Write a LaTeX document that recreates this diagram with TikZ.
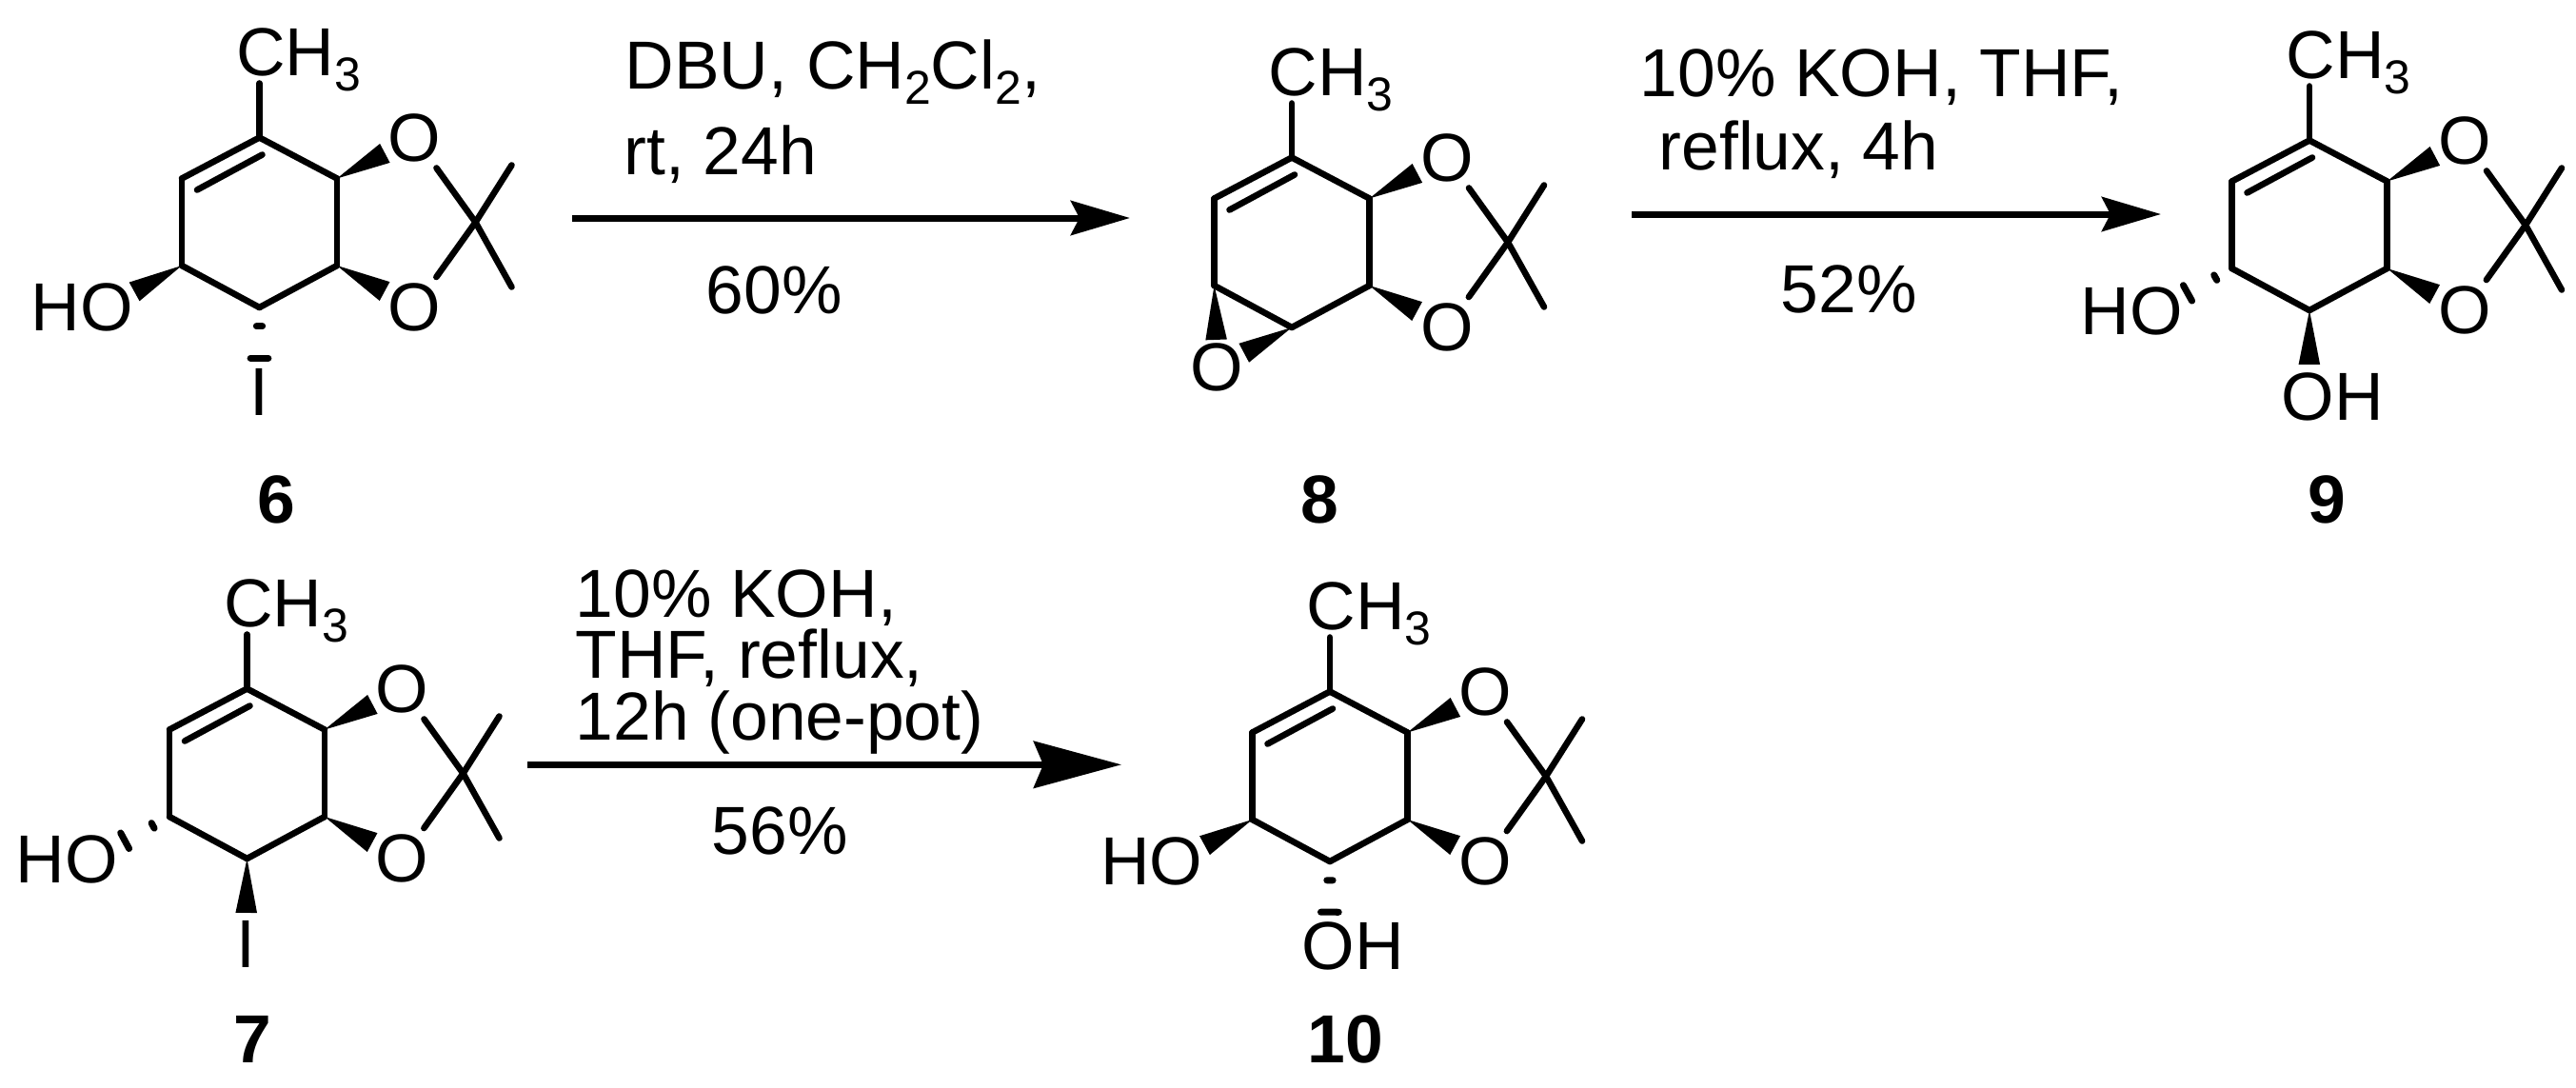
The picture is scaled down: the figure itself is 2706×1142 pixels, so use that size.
\documentclass[tikz,border=0pt]{standalone}
\usepackage{fontspec}
\usepackage{tikz}
\usetikzlibrary{arrows.meta, calc}
\setmainfont{Liberation Sans}

\newcommand{\chemsub}[1]{\raisebox{-0.23em}{\fontsize{14.2}{14.2}\selectfont #1}}
\newcommand{\wedgebond}[2]{\fill ($(#1)$) -- ($(#1)!0.58cm!11.2:(#2)$) -- ($(#1)!0.58cm!-11.2:(#2)$) -- cycle;}
\newcommand{\hashbond}[2]{\draw[hashline] ($(#1)!0.2cm!9:(#2)$) -- ($(#1)!0.2cm!-9:(#2)$) ($(#1)!0.54cm!10:(#2)$) -- ($(#1)!0.54cm!-10:(#2)$);}

\begin{document}
\begin{tikzpicture}[
    x=0.01cm,
    y=-0.01cm,
    bond/.style={line width=0.066cm, line cap=round},
    hashline/.style={line width=0.07cm, line cap=round},
    atom/.style={inner sep=0.06cm, font=\fontsize{20.3}{17.3}\selectfont},
    subst/.style={atom, anchor=base},
    reagent/.style={atom, anchor=base west, inner sep=0pt},
    cpd/.style={inner sep=0pt, font=\fontsize{20.3}{24}\selectfont\bfseries},
    rxn/.style={line width=0.07cm, -{Stealth[length=0.62cm, width=0.36cm, inset=0.09cm]}},
    rxnlong/.style={line width=0.07cm, -{Stealth[length=0.92cm, width=0.49cm, inset=0.1cm]}},
    acetonide/.pic={
        % cyclohexene ring, then the acetal on its right
        \coordinate (-top) at (0,-89);
        \coordinate (-ru) at (81.5,-46);
        \coordinate (-rl) at (81.5,45.5);
        \coordinate (-bot) at (0,89.5);
        \coordinate (-ll) at (-81.5,45.5);
        \coordinate (-lu) at (-81.5,-46);
        \coordinate (-c) at (227,0);
        \coordinate (-me1) at (265,-60);
        \coordinate (-me2) at (265,68);
        \coordinate (-mec) at (0,-146);
        \node[atom] (-o1) at (163,-89) {O};
        \node[atom] (-o2) at (163,89.5) {O};
        \node[subst] (-me) at (41,-154) {CH\chemsub{3}};
        \path[bond]
            (-top) edge (-ru)
            (-ru) edge (-rl)
            (-rl) edge (-bot)
            (-bot) edge (-ll)
            (-ll) edge (-lu)
            (-lu) edge (-top)
            ($(-top)+(3,18)$) edge ($(-lu)+(16,12)$)
            (-top) edge (-mec)
            (-o1) edge (-c)
            (-o2) edge (-c)
            (-c) edge (-me1)
            (-c) edge (-me2);
        \wedgebond{-ru}{-o1}
        \wedgebond{-rl}{-o2}
    }
]
    \useasboundingbox (0,0) rectangle (2706,1142);

    % compound 6
    \pic (m6) at (272.5,233.5) {acetonide};
    \node[subst] (m6-ho) at (86.5,347) {HO};
    \node[subst] (m6-i) at (272.5,436.4) {I};
    \coordinate (m6-hoo) at (111,323);
    \wedgebond{m6-ll}{m6-hoo}
    \hashbond{m6-bot}{m6-i}
    \node[cpd] (n6) at (290,525) {6};

    % compound 8
    \pic (m8) at (1357,254.5) {acetonide};
    \node[atom] (m8-o) at (1278.7,385.7) {O};
    \wedgebond{m8-ll}{m8-o}
    \wedgebond{m8-bot}{m8-o}
    \node[cpd] (n8) at (1386,525) {8};

    % compound 9
    \pic (m9) at (2426,236.5) {acetonide};
    \node[subst] (m9-ho) at (2239.3,351.8) {HO};
    \node[subst] (m9-oh) at (2450,441) {OH};
    \coordinate (m9-hoo) at (2264,326.8);
    \coordinate (m9-oho) at (2425.7,416);
    \hashbond{m9-ll}{m9-hoo}
    \wedgebond{m9-bot}{m9-oho}
    \node[cpd] (n9) at (2444,525) {9};

    % compound 7
    \pic (m7) at (259.5,812.5) {acetonide};
    \node[subst] (m7-ho) at (70.2,927) {HO};
    \node[subst] (m7-i) at (258.3,1016.8) {I};
    \coordinate (m7-hoo) at (95,902.7);
    \hashbond{m7-ll}{m7-hoo}
    \wedgebond{m7-bot}{m7-i}
    \node[cpd] (n7) at (265,1092) {7};

    % compound 10
    \pic (m10) at (1397,815.5) {acetonide};
    \node[subst] (m10-ho) at (1209.8,929.8) {HO};
    \node[subst] (m10-oh) at (1421,1018.9) {OH};
    \coordinate (m10-hoo) at (1234.5,905);
    \coordinate (m10-oho) at (1396.7,995);
    \wedgebond{m10-ll}{m10-hoo}
    \hashbond{m10-bot}{m10-oho}
    \node[cpd] (n10) at (1413.5,1092) {10};

    % reaction arrows and their conditions
    \coordinate (a1s) at (600.8,229);
    \coordinate (a1e) at (1187,229);
    \draw[rxn] (a1s) -- (a1e);
    \node[reagent] (r1a) at (656,93.3) {DBU, CH\chemsub{2}Cl\chemsub{2},};
    \node[reagent] (r1b) at (655,183) {rt, 24h};
    \node[reagent] (r1c) at (741,329) {60\%};

    \coordinate (a2s) at (1713.9,225);
    \coordinate (a2e) at (2270,225);
    \draw[rxn] (a2s) -- (a2e);
    \node[reagent] (r2a) at (1722,101) {10\% KOH, THF,};
    \node[reagent] (r2b) at (1742,178) {reflux, 4h};
    \node[reagent] (r2c) at (1870,328) {52\%};

    \coordinate (a3s) at (553.8,803.3);
    \coordinate (a3e) at (1178,803.3);
    \draw[rxnlong] (a3s) -- (a3e);
    \node[reagent, anchor=north west, align=left] (r3a) at (604,598) {10\% KOH,\\THF, reflux,\\12h (one-pot)};
    \node[reagent] (r3d) at (747,897.3) {56\%};
\end{tikzpicture}
\end{document}
